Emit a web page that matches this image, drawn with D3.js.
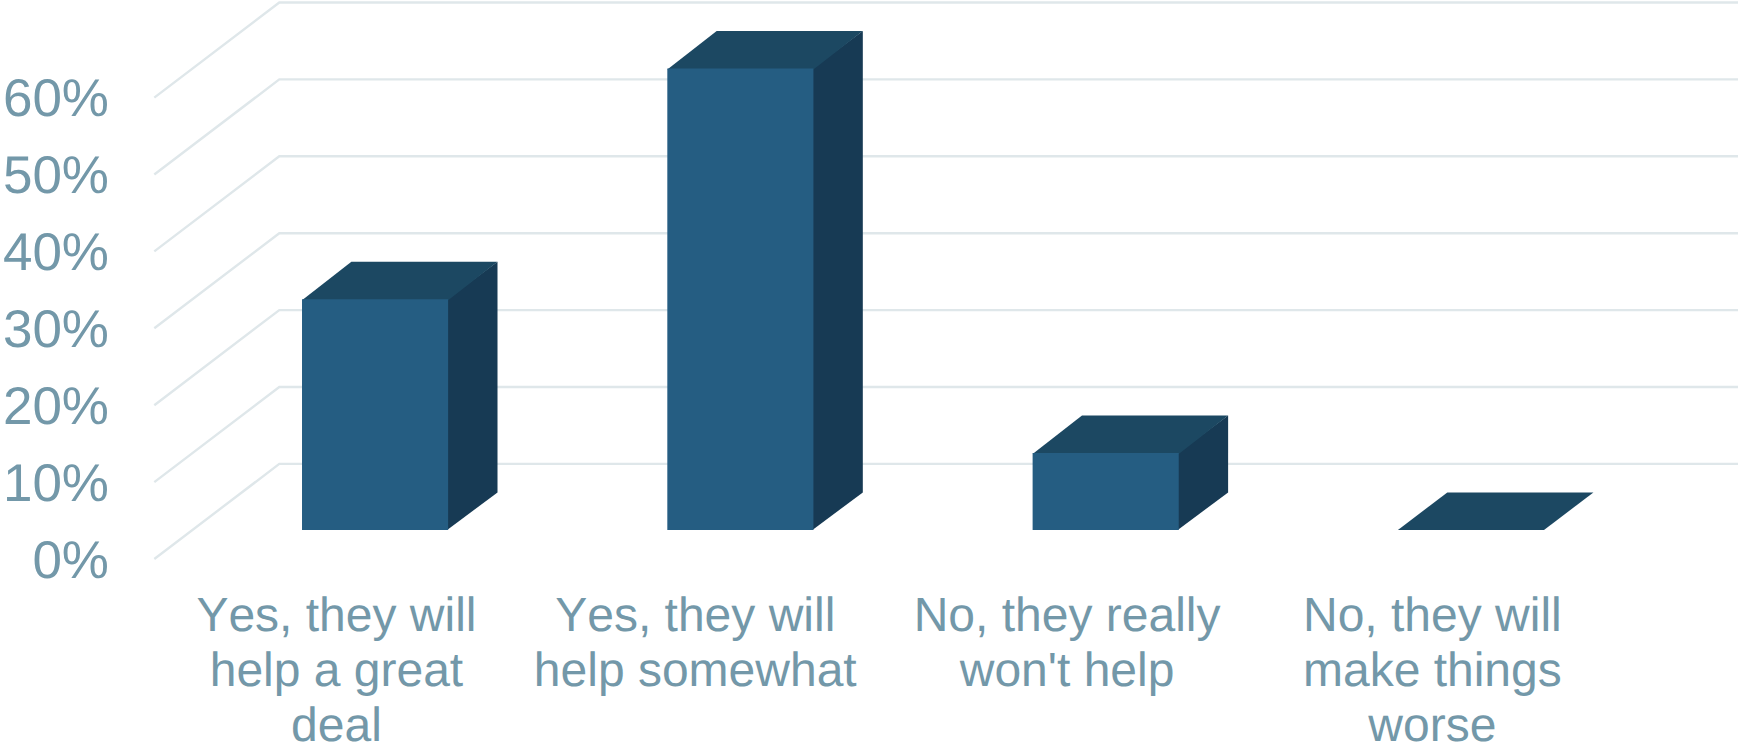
<!DOCTYPE html>
<html>
<head>
<meta charset="utf-8">
<style>
  html, body { margin: 0; padding: 0; background: #fff; }
  svg { display: block; }
  text { font-family: "Liberation Sans", Arial, sans-serif; text-rendering: geometricPrecision; font-kerning: none; }
</style>
<script src="https://cdn.jsdelivr.net/npm/d3@7/dist/d3.min.js"></script>
</head>
<body>
<svg id="chart" width="1738" height="745"></svg>
<script>
const categories = [
  "Yes, they will help a great deal",
  "Yes, they will help somewhat",
  "No, they really won't help",
  "No, they will make things worse"
];
const categoryLines = [
  ["Yes, they will", "help a great", "deal"],
  ["Yes, they will", "help somewhat"],
  ["No, they really", "won't help"],
  ["No, they will", "make things", "worse"]
];
const values = [30, 60, 10, 0];
const yTicks = [0, 10, 20, 30, 40, 50, 60];

const colors = {
  front: "#255d82", top: "#1c4862", side: "#173a54",
  grid: "#dfe7ea", text: "#7398a9"
};

// Oblique projection: the floor runs from the front plane back by (depthX, -depthY).
const depthX = 125, depthY = 95.1;
const barDepthStart = 0.305, barDepthEnd = 0.70;
const project = (x, y, t) => [x + depthX * t, y - depthY * t];

const svg = d3.select("#chart");
const x = d3.scaleBand().domain(categories).range([154.3, 1615.5]).paddingInner(0).paddingOuter(0);
const y = d3.scaleLinear().domain([0, 60]).range([559, 97.6]);
const barWidth = x.bandwidth() * 0.4;

// Gridlines: a slanted run on the side wall, then straight along the back wall.
const line = d3.line();
svg.append("g").selectAll("path").data(yTicks).join("path")
  .attr("d", v => line([
    project(x.range()[0], y(v), 0),
    project(x.range()[0], y(v), 1),
    [1738, y(v) - depthY]
  ]))
  .attr("fill", "none")
  .attr("stroke", colors.grid)
  .attr("stroke-width", 2.4);

// Each bar is a box with three visible faces; the side and top tuck under the front to close the seams.
const bars = svg.append("g").selectAll("g")
  .data(categories.map((c, i) => ({ c, v: values[i] })))
  .join("g");

const corners = d => {
  const x0 = x(d.c) + (x.bandwidth() - barWidth) / 2, x1 = x0 + barWidth;
  return { x0, x1, yTop: y(d.v), yBase: y(0) };
};
const poly = pts => line(pts) + "Z";

bars.append("path").attr("fill", colors.side)
  .attr("d", d => {
    const { x1, yTop, yBase } = corners(d);
    return poly([
      project(x1 - 1, yTop, barDepthStart), project(x1, yTop, barDepthEnd),
      project(x1, yBase, barDepthEnd), project(x1 - 1, yBase, barDepthStart)
    ]);
  });
bars.append("path").attr("fill", colors.top)
  .attr("d", d => {
    const { x0, x1, yTop, yBase } = corners(d);
    const tuck = Math.min(yTop + 1, yBase);
    return poly([
      project(x0, tuck, barDepthStart), project(x0, yTop, barDepthEnd),
      project(x1, yTop, barDepthEnd), project(x1, tuck, barDepthStart)
    ]);
  });
bars.append("path").attr("fill", colors.front).attr("d", d => {
  const { x0, x1, yTop, yBase } = corners(d);
  return poly([
    project(x0, yTop, barDepthStart), project(x1, yTop, barDepthStart),
    project(x1, yBase, barDepthStart), project(x0, yBase, barDepthStart)
  ]);
});

// Value axis
const yAxis = svg.append("g")
  .attr("transform", "translate(109,0)")
  .call(d3.axisLeft(y).tickValues(yTicks).tickSize(0).tickPadding(0).tickFormat(v => v + "%"));
yAxis.select(".domain").remove();
yAxis.selectAll("text")
  .attr("x", 0).attr("dy", null).attr("y", 18)
  .attr("font-size", 53).attr("font-family", null)
  .attr("fill", colors.text);

// Category axis with wrapped labels; the second label sits slightly left of its band.
const labelShift = [-0.5, -7, -0.5, -0.5];
const xAxis = svg.append("g")
  .attr("transform", "translate(0,630.7)")
  .call(d3.axisBottom(x).tickSize(0).tickPadding(0));
xAxis.select(".domain").remove();
xAxis.selectAll("text").each(function (c, i) {
  const t = d3.select(this).attr("y", 0).attr("dy", null)
    .attr("font-size", 48).attr("font-family", null)
    .attr("fill", colors.text).text(null);
  categoryLines[i].forEach((s, k) => {
    t.append("tspan").attr("x", labelShift[i]).attr("y", k * 55).text(s);
  });
});
</script>
</body>
</html>
